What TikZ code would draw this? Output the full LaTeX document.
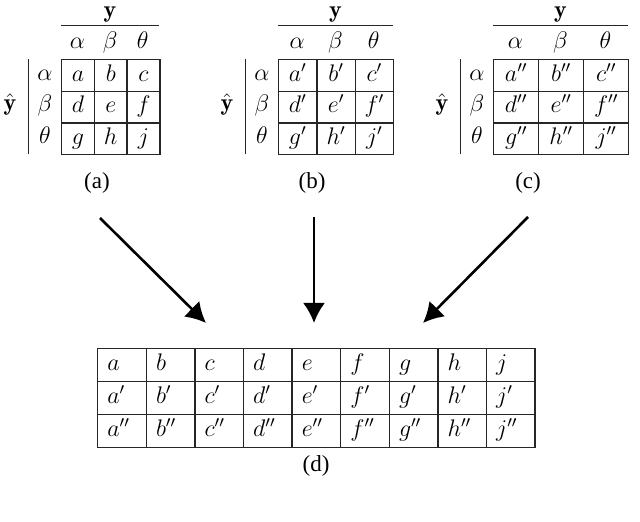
\documentclass[tikz,border=0pt]{standalone}
\usepackage{fontspec}
\newfontfamily\capfont{Liberation Serif}
\usetikzlibrary{arrows.meta}
\tikzstyle{cell}=[rectangle,draw=black!85,line width=0.7pt,inner sep=0pt,anchor=north west,font=\fontsize{12}{14}\selectfont,text height=8.5pt,text depth=3pt]
\tikzstyle{entry}=[inner sep=0pt,font=\fontsize{12}{14}\selectfont,text height=8.5pt,text depth=3pt]
\tikzstyle{annot}=[align=center,inner sep=0pt,font=\capfont\fontsize{11.5}{13}\selectfont]
\tikzstyle{rule}=[line width=0.5pt,draw=black!85]
\tikzstyle{conn}=[line width=1.3pt,-{Latex[length=10pt,width=11pt]}]
% #1 name, #2 left edge, #3 cell width, #4 prime, #5 caption x, #6 caption
\newcommand{\drawconf}[6]
{
  \foreach \row [count=\i from 0] in {{a,b,c},{d,e,f},{g,h,j}}
    \foreach \ent [count=\j from 0] in \row
      \node[cell, minimum width=#3*0.5pt, minimum height=15.83pt](#1\i\j) at (#2+\j*#3, 59+\i*31.67){$\ent#4$};
  \foreach \g [count=\j from 0] in {\alpha,\beta,\theta}
    \node[entry](#1col\j) at (#2+\j*#3+#3/2, 43){$\g$};
  \foreach \g [count=\i from 0] in {\alpha,\beta,\theta}
    \node[entry](#1row\i) at (#2-16, 74.8+\i*31.67){$\g$};
  \node[entry](#1y) at (#2+1.5*#3, 12){$\mathbf{y}$};
  \draw[rule] (#2,26) -- (#2+3*#3,26);
  \draw[rule] (#2-33,59) -- (#2-33,154);
  \node[entry](#1yhat) at (#2-51,105){$\hat{\mathbf{y}}$};
  \node[annot](#1cap) at (#5,183){#6};
}

\begin{document}
\begin{tikzpicture}[x=0.5pt,y=-0.5pt]
	\useasboundingbox (0,0) rectangle (640,522);

	\drawconf{a}{61}{32.7}{}{97}{(a)}
	\drawconf{b}{278}{38.3}{'}{312}{(b)}
	\drawconf{c}{493}{45}{''}{528}{(c)}

	% stacked table
	\foreach \p [count=\i from 0] in {{},{'},{''}}
	{
		\foreach \ent [count=\j from 0] in {a,b,c,d,e,f,g,h,j}
		{
			\node[cell, minimum width=24.3pt, minimum height=16.5pt](d\i\j) at (97+\j*48.6, 348+\i*33){};
			\node[entry, anchor=west](e\i\j) at ([xshift=5pt]d\i\j.west){$\ent\p$};
		}
	}
	\node[annot](dcap) at (316,466){(d)};

	\coordinate (sa) at (100,218);
	\coordinate (ea) at (206,323);
	\coordinate (sb) at (314,217);
	\coordinate (eb) at (314,323);
	\coordinate (sc) at (528,217);
	\coordinate (ec) at (423,323);
	\draw[conn] (sa) -- (ea);
	\draw[conn] (sb) -- (eb);
	\draw[conn] (sc) -- (ec);

\end{tikzpicture}
\end{document}
